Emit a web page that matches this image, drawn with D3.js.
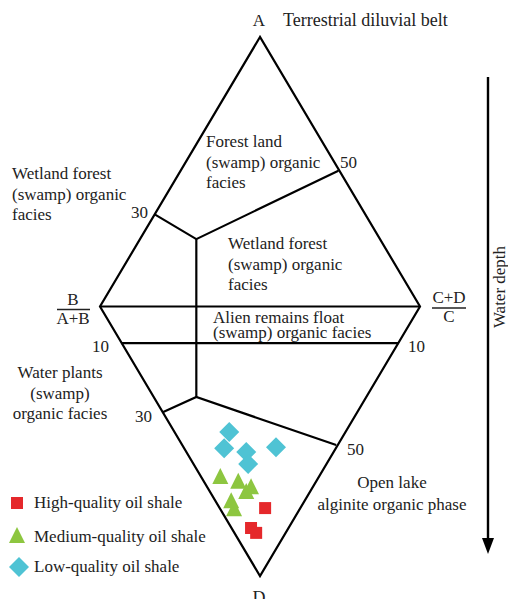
<!DOCTYPE html>
<html><head><meta charset="utf-8"><script src="https://cdn.jsdelivr.net/npm/d3@7"></script></head>
<body style="margin:0">
<svg id="s" width="508" height="599"></svg>
<script>
// Facies diagram: corners A (top), B (left), C (right), D (bottom) in diagram units (0-100)
const outline = [[50, 100], [0, 50], [50, 0], [100, 50]];

// Facies boundaries, each a polyline in diagram units
const boundaries = [
  [[0, 50], [100, 50]],                          // B - C line
  [[6.8, 43.2], [93.2, 43.2]],                   // 10 line
  [[17.1, 67.1], [30.1, 62.5], [74.5, 75.2]],    // upper fork (30 / 50)
  [[30.1, 62.5], [30.1, 33.2]],                  // central divide
  [[19.6, 30.4], [30.1, 33.2], [73.8, 24.3]]     // lower fork (30 / 50)
];

// Samples (diagram units)
const highX = [51.6, 47.2, 48.8];
const highY = [12.6, 8.9, 8.0];
const mediumX = [37.6, 43.2, 47.2, 45.7, 41.0, 41.9];
const mediumY = [18.2, 17.3, 16.3, 15.4, 13.7, 12.2];
const lowX = [40.4, 38.8, 45.7, 55.0, 46.3];
const lowY = [26.7, 23.7, 23.0, 23.9, 20.8];

const legendLabels = ["High-quality oil shale", "Medium-quality oil shale", "Low-quality oil shale"];
const colors = { high: "#e5282b", medium: "#8dc640", low: "#4fc3d4" };
const fam = "Liberation Serif";
const FONT = `"${fam}", monospace`;

const svg = d3.select("#s");
const x = d3.scaleLinear().domain([0, 100]).range([100, 420]);
const y = d3.scaleLinear().domain([0, 100]).range([576, 37]);
const line = d3.line().x(d => x(d[0])).y(d => y(d[1]));

// Outline
svg.append("path")
  .attr("d", line(outline) + "Z")
  .attr("fill", "none").attr("stroke", "#000").attr("stroke-width", 2.2)
  .attr("stroke-linejoin", "miter");

svg.selectAll("path.boundary").data(boundaries).enter().append("path")
  .attr("class", "boundary")
  .attr("d", line)
  .attr("fill", "none").attr("stroke", "#000").attr("stroke-width", 2.2);

// Text helper: one <text> per line
function label(lines, px, py, opts = {}) {
  const lh = opts.lh || 20.5;
  lines.forEach((s, i) => {
    svg.append("text")
      .attr("x", px).attr("y", py + i * lh)
      .attr("font-size", opts.size || 17)
      .style("font-family", FONT)
      .attr("fill", "#222")
      .attr("text-anchor", opts.anchor || "start")
      .text(s);
  });
}

// Corner and region labels
label(["A"], 259, 26, { anchor: "middle", size: 17 });
label(["Terrestrial diluvial belt"], 283, 26, { size: 18 });
label(["D"], 259, 604, { anchor: "middle", size: 18 });

label(["Forest land", "(swamp) organic", "facies"], 206, 147);
label(["Wetland forest", "(swamp) organic", "facies"], 12, 179);
label(["Wetland forest", "(swamp) organic", "facies"], 228, 249);
label(["Alien remains float", "(swamp) organic facies"], 213, 323, { lh: 15 });
label(["Water plants", "(swamp)", "organic facies"], 60, 378, { anchor: "middle" });
label(["Open lake", "alginite organic phase"], 392, 488, { anchor: "middle", lh: 22 });

// Boundary values
label(["50"], 340, 168);
label(["30"], 131, 218);
label(["10"], 92, 352);
label(["10"], 408, 352);
label(["30"], 135, 422);
label(["50"], 347, 455);

// Ratio labels
label(["B"], 73, 305, { anchor: "middle" });
svg.append("line").attr("x1", 57).attr("x2", 90).attr("y1", 309.5).attr("y2", 309.5)
  .attr("stroke", "#222").attr("stroke-width", 1.6);
label(["A+B"], 73, 324, { anchor: "middle" });
label(["C+D"], 449, 303, { anchor: "middle" });
svg.append("line").attr("x1", 432).attr("x2", 466).attr("y1", 308).attr("y2", 308)
  .attr("stroke", "#222").attr("stroke-width", 1.6);
label(["C"], 449, 322, { anchor: "middle" });

// Water depth arrow
svg.append("line").attr("x1", 488).attr("x2", 488).attr("y1", 77).attr("y2", 540)
  .attr("stroke", "#000").attr("stroke-width", 2.4);
svg.append("path").attr("d", "M482,538 L494,538 L488,554 Z").attr("fill", "#000");
svg.append("text").attr("transform", "translate(505,287) rotate(-90)")
  .attr("text-anchor", "middle")
  .attr("font-size", 17).style("font-family", FONT)
  .attr("fill", "#222").text("Water depth");

// Markers
const sq = 12, tri = 16, dia = 10;
function squarePath(cx, cy) { return `M${cx - sq / 2},${cy - sq / 2}h${sq}v${sq}h${-sq}Z`; }
function trianglePath(cx, cy) { return `M${cx},${cy - tri * 0.62}L${cx + tri / 2},${cy + tri * 0.38}L${cx - tri / 2},${cy + tri * 0.38}Z`; }
function diamondPath(cx, cy) { return `M${cx},${cy - dia}L${cx + dia},${cy}L${cx},${cy + dia}L${cx - dia},${cy}Z`; }

const zip = (xs, ys) => xs.map((v, i) => [v, ys[i]]);

svg.selectAll("path.low").data(zip(lowX, lowY)).enter().append("path")
  .attr("class", "low").attr("d", d => diamondPath(x(d[0]), y(d[1]))).attr("fill", colors.low);
svg.selectAll("path.medium").data(zip(mediumX, mediumY)).enter().append("path")
  .attr("class", "medium").attr("d", d => trianglePath(x(d[0]), y(d[1]))).attr("fill", colors.medium);
svg.selectAll("path.high").data(zip(highX, highY)).enter().append("path")
  .attr("class", "high").attr("d", d => squarePath(x(d[0]), y(d[1]))).attr("fill", colors.high);

// Legend
const legendMarks = [
  p => squarePath(p[0], p[1]),
  p => trianglePath(p[0], p[1]),
  p => diamondPath(p[0], p[1])
];
const legendColors = [colors.high, colors.medium, colors.low];
const legendY = [503, 537, 567];
const legendMarkX = [17, 17, 19];
legendLabels.forEach((s, i) => {
  svg.append("path").attr("d", legendMarks[i]([legendMarkX[i], legendY[i]])).attr("fill", legendColors[i]);
  svg.append("text").attr("x", 34).attr("y", legendY[i] + 5)
    .attr("font-size", 17).style("font-family", FONT)
    .attr("fill", "#222").text(s);
});
</script>
</body>
</html>
